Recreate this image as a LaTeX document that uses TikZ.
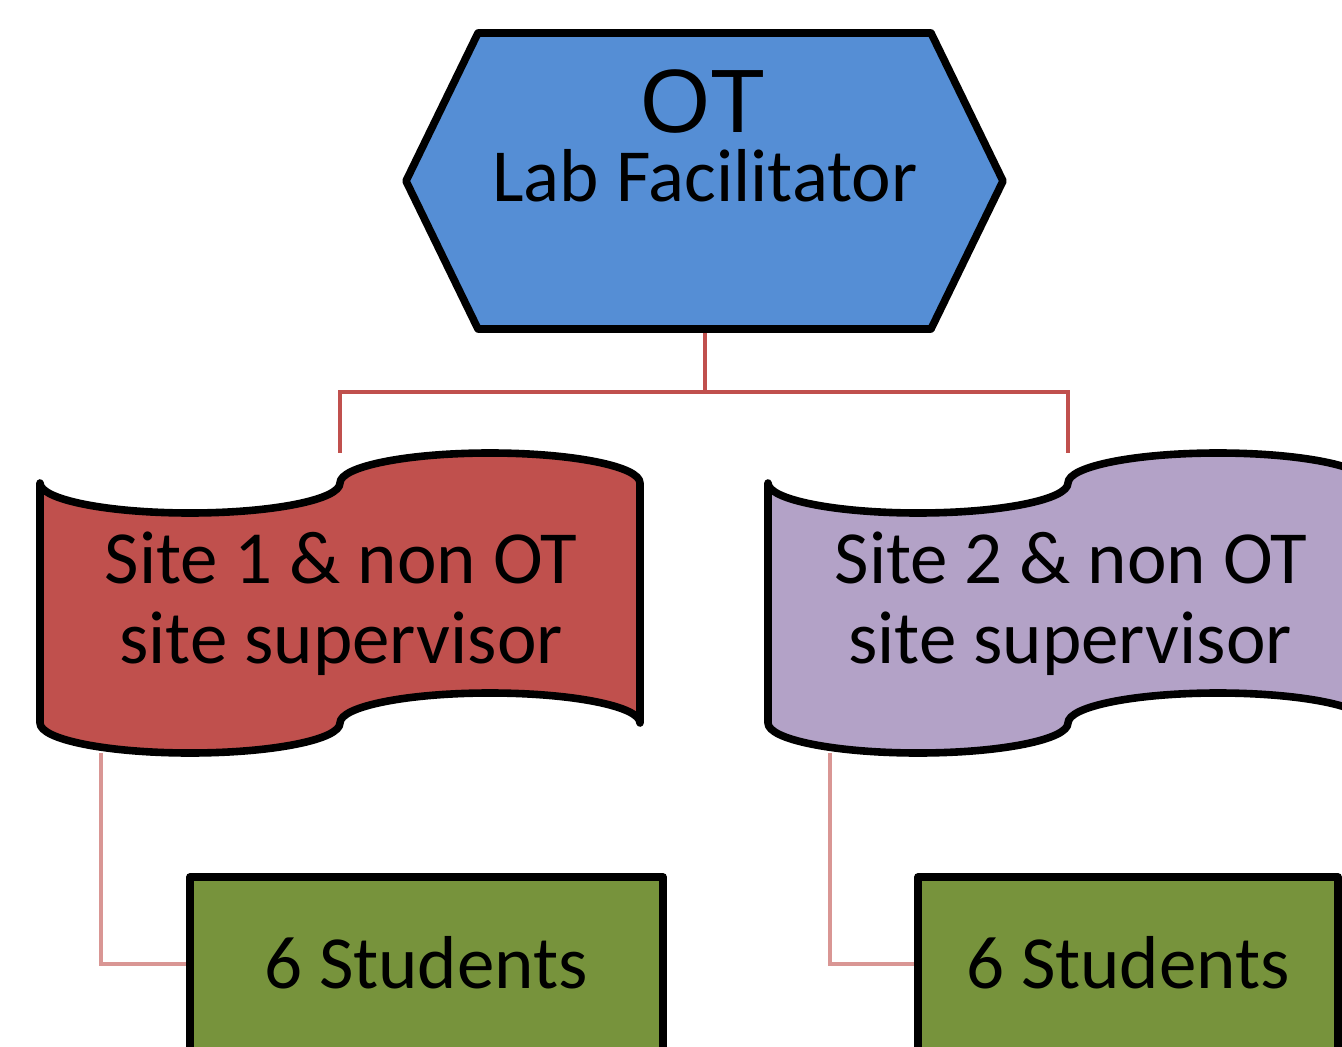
\documentclass[tikz,border=0pt]{standalone}
\usepackage{fontspec}
\setmainfont{Carlito}
\newfontfamily\otfont{Liberation Sans}
\usetikzlibrary{backgrounds}
\definecolor{hexblue}{HTML}{558ED5}
\definecolor{siteonered}{HTML}{C0504D}
\definecolor{sitetwopurple}{HTML}{B3A2C7}
\definecolor{stgreen}{HTML}{77933C}
\definecolor{linkred}{HTML}{C0504D}
\definecolor{linkpink}{HTML}{D99694}
\tikzset{
  outline/.style={draw=black, line width=3.8pt, line join=round},
  framebox/.style={inner sep=0pt, outer sep=0pt},
  lbl/.style={font=\fontsize{37.5}{40}\selectfont, anchor=base, inner sep=0pt},
  toplink/.style={draw=linkred, line width=2pt},
  sublink/.style={draw=linkpink, line width=2pt},
  wavearc/.style={x radius=75pt, y radius=15pt}
}
\begin{document}
\begin{tikzpicture}[x=0.5pt,y=-0.5pt]
\useasboundingbox (0,0) rectangle (1342,1047);
% frames
\node[framebox, minimum width=298.5pt, minimum height=148pt] (hex) at (704.5,181) {};
\node[framebox, minimum width=300pt, minimum height=150pt] (w1) at (340,603) {};
\node[framebox, minimum width=300pt, minimum height=150pt] (w2) at (1068,603) {};
% hexagon
\draw[outline, fill=hexblue] (hex.west) -- ([xshift=36pt]hex.north west) -- ([xshift=-36pt]hex.north east) -- (hex.east) -- ([xshift=-36pt]hex.south east) -- ([xshift=36pt]hex.south west) -- cycle;
\node[font=\otfont\fontsize{45}{50}\selectfont, anchor=base, inner sep=0pt] (hexot) at (703,133) {OT};
\node[lbl] (hexlab) at (705,202) {Lab Facilitator};
% wave 1
\draw[outline, fill=siteonered] ([yshift=-15pt]w1.north west)
  arc[start angle=180, end angle=360, wavearc]
  arc[start angle=180, end angle=0, wavearc]
  -- ([yshift=15pt]w1.south east)
  arc[start angle=0, end angle=180, wavearc]
  arc[start angle=0, end angle=-180, wavearc] -- cycle;
\node[lbl] (w1a) at (341,583) {Site 1 \& non OT};
\node[lbl] (w1b) at (341,663) {site supervisor};
% wave 2
\draw[outline, fill=sitetwopurple] ([yshift=-15pt]w2.north west)
  arc[start angle=180, end angle=360, wavearc]
  arc[start angle=180, end angle=0, wavearc]
  -- ([yshift=15pt]w2.south east)
  arc[start angle=0, end angle=180, wavearc]
  arc[start angle=0, end angle=-180, wavearc] -- cycle;
\node[lbl] (w2a) at (1071,583) {Site 2 \& non OT};
\node[lbl] (w2b) at (1070,663) {site supervisor};
% student boxes
\node[outline, fill=stgreen, minimum width=236.5pt, minimum height=87pt, inner sep=0pt] (st1) at (426.5,964) {};
\node[lbl] (st1t) at (426,988) {6 Students};
\node[outline, fill=stgreen, minimum width=210pt, minimum height=87pt, inner sep=0pt] (st2) at (1128,964) {};
\node[lbl] (st2t) at (1128,988) {6 Students};
% connectors
\begin{scope}[on background layer]
\draw[toplink] (hex.south) -- ++(0,63) coordinate (fork) -| (w1.north);
\draw[toplink] (fork) -| (w2.north);
\draw[sublink] ([xshift=30.5pt]w1.south west) |- (st1.west);
\draw[sublink] ([xshift=31pt]w2.south west) |- (st2.west);
\end{scope}
\end{tikzpicture}
\end{document}
